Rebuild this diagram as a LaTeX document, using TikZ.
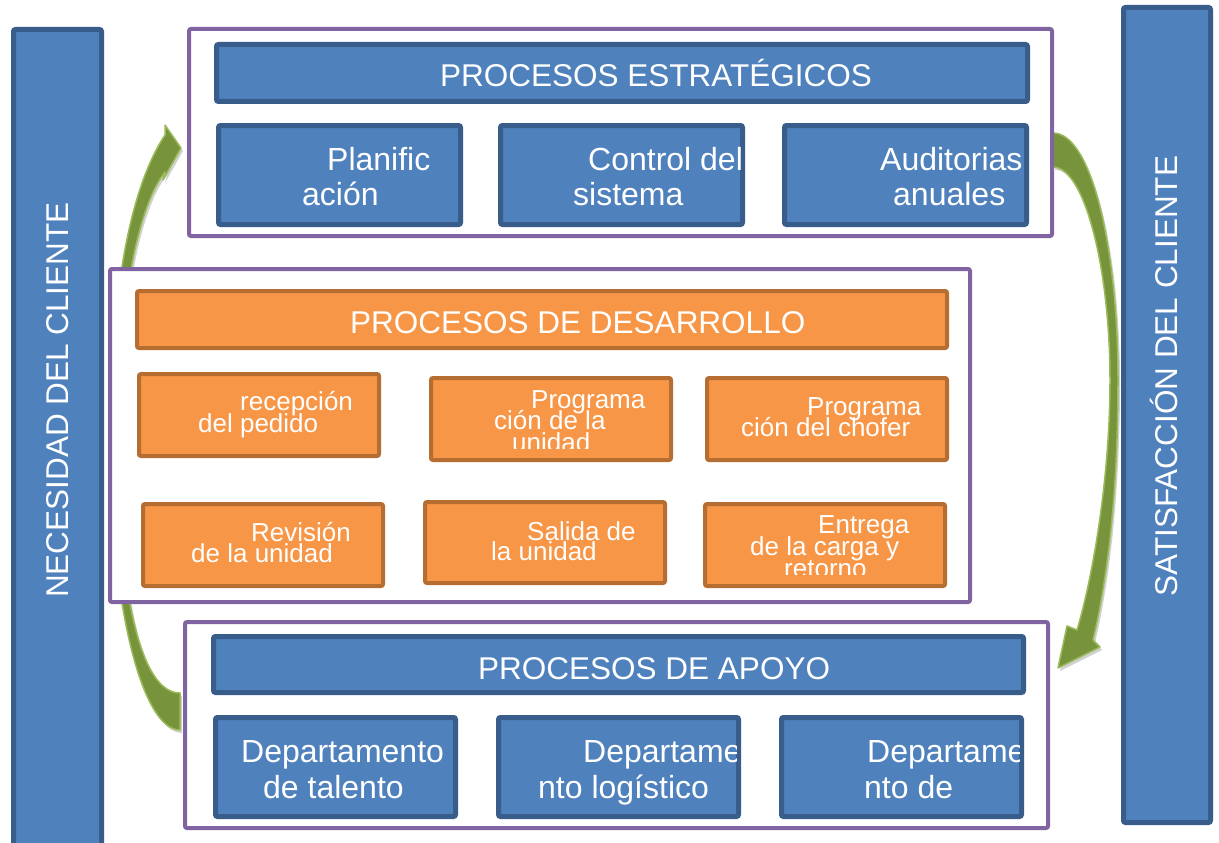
\documentclass[tikz,border=0pt]{standalone}
\usepackage{fontspec}
\setmainfont{Liberation Sans}
\definecolor{bfill}{HTML}{4F81BD}
\definecolor{bline}{HTML}{385D8A}
\definecolor{ofill}{HTML}{F79646}
\definecolor{oline}{HTML}{B66D31}
\definecolor{purp}{HTML}{8064A2}
\definecolor{gfill}{HTML}{77933C}
\definecolor{gline}{HTML}{9BBB59}
\tikzset{
  bluebox/.style={draw=bline, fill=bfill, line width=5pt, rounded corners=2pt, inner sep=0pt},
  orangebox/.style={draw=oline, fill=ofill, line width=4pt, rounded corners=2pt, inner sep=0pt},
  purpframe/.style={draw=purp, fill=white, line width=4pt, rounded corners=2pt, inner sep=0pt},
  txt/.style={text=white, inner sep=0pt, anchor=base west, font=\fontsize{32}{36}\selectfont},
  otxt/.style={text=white, inner sep=0pt, anchor=base west, font=\fontsize{26}{26}\selectfont},
  htxt/.style={text=white, inner sep=0pt, anchor=base west, font=\fontsize{31.5}{36}\selectfont},
  vtxt/.style={text=white, inner sep=0pt, anchor=base, rotate=90, font=\fontsize{31.5}{36}\selectfont},
  greenarrow/.style={fill=gfill, draw=gline, line width=1.5pt, line join=round},
  arrowshadow/.style={fill=black, opacity=0.18}
}
\newcommand{\mkbox}[6]{\node[#1, minimum width={#4-#2}, minimum height={#5-#3}] (#6) at ({(#2+#4)/2},{(#3+#5)/2}) {};}
\begin{document}
\begin{tikzpicture}[x=1pt, y=-1pt]
\clip (0,0) rectangle (1219,843);
\fill[white] (0,0) rectangle (1219,843);

% side bars
\mkbox{bluebox}{13.5}{29.5}{101.5}{870}{leftbar}
\mkbox{bluebox}{1123.5}{7.5}{1210.5}{822.5}{rightbar}
\node[vtxt] (lefttext) at (68,400) {NECESIDAD DEL CLIENTE};
\node[vtxt] (righttext) at (1177,376) {SATISFACCIÓN DEL CLIENTE};

% green arrows (shadow + body)
\begin{scope}[shift={(2,3)}]
\fill[arrowshadow] (180,730) .. controls (141,730) and (110,600) .. (110,440)
  .. controls (110,330) and (122,200) .. (165,135)
  -- (165,125) -- (181,148) -- (163,180) -- (165,172)
  .. controls (132,215) and (118,330) .. (118,440)
  .. controls (118,590) and (140,693) .. (180,693) -- cycle;
\fill[arrowshadow] (1053,133) .. controls (1092,133) and (1118,250) .. (1118,380)
  .. controls (1118,500) and (1106,585) .. (1093,640)
  -- (1100,647) -- (1058,668) -- (1067,626) -- (1077,630)
  .. controls (1092,580) and (1110,480) .. (1110,380)
  .. controls (1110,270) and (1085,167) .. (1053,167) -- cycle;
\end{scope}
\draw[greenarrow] (180,730) .. controls (141,730) and (110,600) .. (110,440)
  .. controls (110,330) and (122,200) .. (165,135)
  -- (165,125) -- (181,148) -- (163,180) -- (165,172)
  .. controls (132,215) and (118,330) .. (118,440)
  .. controls (118,590) and (140,693) .. (180,693) -- cycle;
\draw[greenarrow] (1053,133) .. controls (1092,133) and (1118,250) .. (1118,380)
  .. controls (1118,500) and (1106,585) .. (1093,640)
  -- (1100,647) -- (1058,668) -- (1067,626) -- (1077,630)
  .. controls (1092,580) and (1110,480) .. (1110,380)
  .. controls (1110,270) and (1085,167) .. (1053,167) -- cycle;

% frames
\mkbox{purpframe}{189}{29}{1052}{236}{topframe}
\mkbox{purpframe}{110}{269}{970}{602}{midframe}
\mkbox{purpframe}{185}{622}{1048}{828}{botframe}

% strategic
\mkbox{bluebox}{216.5}{44.5}{1027.5}{101.5}{esthead}
\node[htxt] (esttext) at (440,86) {PROCESOS ESTRATÉGICOS};
\mkbox{bluebox}{218.5}{125.5}{460.5}{224.5}{est1}
\mkbox{bluebox}{500.5}{125.5}{742.5}{224.5}{est2}
\mkbox{bluebox}{784.5}{125.5}{1026.5}{224.5}{est3}
\begin{scope}
\clip (221,128) rectangle (458,222);
\node[txt] (e1a) at (327,170) {Planific};
\node[txt] (e1b) at (302,205) {ación};
\end{scope}
\begin{scope}
\clip (503,128) rectangle (740,222);
\node[txt] (e2a) at (588,170) {Control del};
\node[txt] (e2b) at (573,205) {sistema};
\end{scope}
\begin{scope}
\clip (787,128) rectangle (1024,222);
\node[txt] (e3a) at (880,170) {Auditorias};
\node[txt] (e3b) at (893,205) {anuales};
\end{scope}

% development
\mkbox{orangebox}{137}{291}{947}{348}{devhead}
\node[htxt] (devtext) at (350,333) {PROCESOS DE DESARROLLO};
\mkbox{orangebox}{139}{374}{379}{456}{d1}
\mkbox{orangebox}{431}{378}{671}{460}{d2}
\mkbox{orangebox}{707}{378}{947}{460}{d3}
\mkbox{orangebox}{143}{504}{383}{586}{d4}
\mkbox{orangebox}{425}{502}{665}{583}{d5}
\mkbox{orangebox}{705}{504}{945}{586}{d6}
\node[otxt] (d1a) at (240,410) {recepción};
\node[otxt] (d1b) at (198,432) {del pedido};
\begin{scope}
\clip (433,380) rectangle (669,448);
\node[otxt] (d2a) at (531,408) {Programa};
\node[otxt] (d2b) at (494,429) {ción de la};
\node[otxt] (d2c) at (512,451) {unidad};
\end{scope}
\node[otxt] (d3a) at (807,415) {Programa};
\node[otxt] (d3b) at (741,436) {ción del chofer};
\node[otxt] (d4a) at (251,541) {Revisión};
\node[otxt] (d4b) at (191,562) {de la unidad};
\node[otxt] (d5a) at (527,540) {Salida de};
\node[otxt] (d5b) at (491,560) {la unidad};
\begin{scope}
\clip (707,506) rectangle (943,574);
\node[otxt] (d6a) at (818,533) {Entrega};
\node[otxt] (d6b) at (750,555) {de la carga y};
\node[otxt] (d6c) at (784,577) {retorno};
\end{scope}

% support
\mkbox{bluebox}{213.5}{636.5}{1023.5}{692.5}{apohead}
\node[htxt] (apotext) at (478,679) {PROCESOS DE APOYO};
\mkbox{bluebox}{215.5}{717.5}{455.5}{816.5}{a1}
\mkbox{bluebox}{498.5}{717.5}{738.5}{816.5}{a2}
\mkbox{bluebox}{781.5}{717.5}{1021.5}{816.5}{a3}
\begin{scope}
\clip (218,720) rectangle (453,814);
\node[txt] (a1a) at (241,762) {Departamento};
\node[txt] (a1b) at (263,798) {de talento};
\end{scope}
\begin{scope}
\clip (501,720) rectangle (736,814);
\node[txt] (a2a) at (583,762) {Departamento};
\node[txt] (a2b) at (538,798) {nto logístico};
\end{scope}
\begin{scope}
\clip (784,720) rectangle (1019,814);
\node[txt] (a3a) at (867,762) {Departamento};
\node[txt] (a3b) at (864,798) {nto de};
\end{scope}
\end{tikzpicture}
\end{document}
